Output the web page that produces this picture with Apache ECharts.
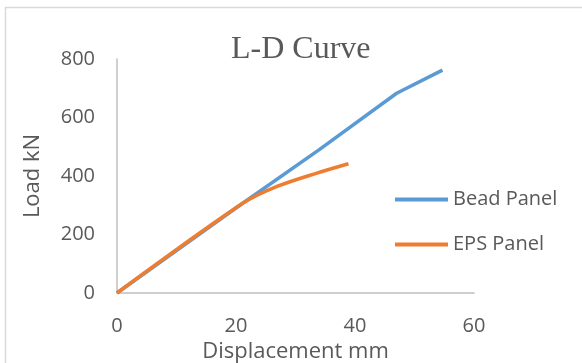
<!DOCTYPE html>
<html>
<head>
<meta charset="utf-8">
<script src="https://cdn.jsdelivr.net/npm/echarts@6/dist/echarts.min.js"></script>
<style>
  html, body { margin: 0; padding: 0; background: #fff; }
  #chart { width: 582px; height: 363px; }
</style>
</head>
<body>
<div id="chart"></div>
<script>
// displacement (mm) / load (kN) pairs
const beadDisp = [0, 21, 34, 47, 54.7];
const beadLoad = [0, 305, 490, 683, 762];
const epsDisp = [0, 21, 27, 33.6, 38.9];
const epsLoad = [0, 305, 365, 410, 442];
const seriesNames = ['Bead Panel', 'EPS Panel'];

const TEXT_COLOR = '#595959';
const AXIS_COLOR = '#bfbfbf';
const LABEL_FONT = '"Open Sans", sans-serif';
const BEAD_COLOR = '#5B9BD5';
const EPS_COLOR = '#ED7D31';

const toPairs = (xs, ys) => xs.map((x, i) => [x, ys[i]]);

const chart = echarts.init(document.getElementById('chart'));

chart.setOption({
  animation: false,
  textStyle: {
    fontFamily: LABEL_FONT,
    color: TEXT_COLOR,
  },
  title: {
    text: 'L-D Curve',
    left: 226,
    top: 29,
    textStyle: {
      fontFamily: '"Liberation Serif", serif',
      fontWeight: 'normal',
      fontSize: 32,
      color: TEXT_COLOR,
    },
  },
  graphic: [
    {
      type: 'rect',
      shape: { x: 5.5, y: 7.5, width: 700, height: 500 },
      style: { fill: 'none', stroke: '#d9d9d9', lineWidth: 1.5 },
      silent: true,
    },
  ],
  grid: {
    left: 117,
    right: 108,
    top: 59,
    bottom: 70,
    outerBoundsMode: 'none',
  },
  legend: {
    data: seriesNames.map((name) => ({ name, icon: 'rect' })),
    orient: 'vertical',
    left: 390,
    top: 181,
    itemWidth: 53,
    itemHeight: 4,
    itemGap: 18,
    textStyle: {
      fontFamily: LABEL_FONT,
      fontSize: 20,
      color: TEXT_COLOR,
      lineHeight: 27,
    },
  },
  xAxis: {
    type: 'value',
    min: 0,
    max: 60,
    interval: 20,
    name: 'Displacement mm',
    nameLocation: 'middle',
    nameGap: 46,
    nameTextStyle: {
      fontSize: 22,
      color: TEXT_COLOR,
    },
    axisLine: { lineStyle: { color: AXIS_COLOR, width: 1.5 } },
    axisTick: { show: false },
    splitLine: { show: false },
    axisLabel: {
      fontSize: 20,
      color: TEXT_COLOR,
      margin: 23,
    },
  },
  yAxis: {
    type: 'value',
    min: 0,
    max: 800,
    interval: 200,
    name: 'Load kN',
    nameLocation: 'middle',
    nameGap: 73,
    nameTextStyle: {
      fontSize: 22,
      color: TEXT_COLOR,
    },
    axisLine: { show: true, lineStyle: { color: AXIS_COLOR, width: 1.5 } },
    axisTick: { show: false },
    splitLine: { show: false },
    axisLabel: {
      fontSize: 20,
      color: TEXT_COLOR,
      margin: 22,
    },
  },
  series: [
    {
      name: seriesNames[0],
      type: 'line',
      data: toPairs(beadDisp, beadLoad),
      symbol: 'none',
      lineStyle: { color: BEAD_COLOR, width: 3.5 },
      itemStyle: { color: BEAD_COLOR },
    },
    {
      name: seriesNames[1],
      type: 'line',
      data: toPairs(epsDisp, epsLoad),
      symbol: 'none',
      smooth: 0.3,
      lineStyle: { color: EPS_COLOR, width: 3.5 },
      itemStyle: { color: EPS_COLOR },
    },
  ],
});
</script>
</body>
</html>
